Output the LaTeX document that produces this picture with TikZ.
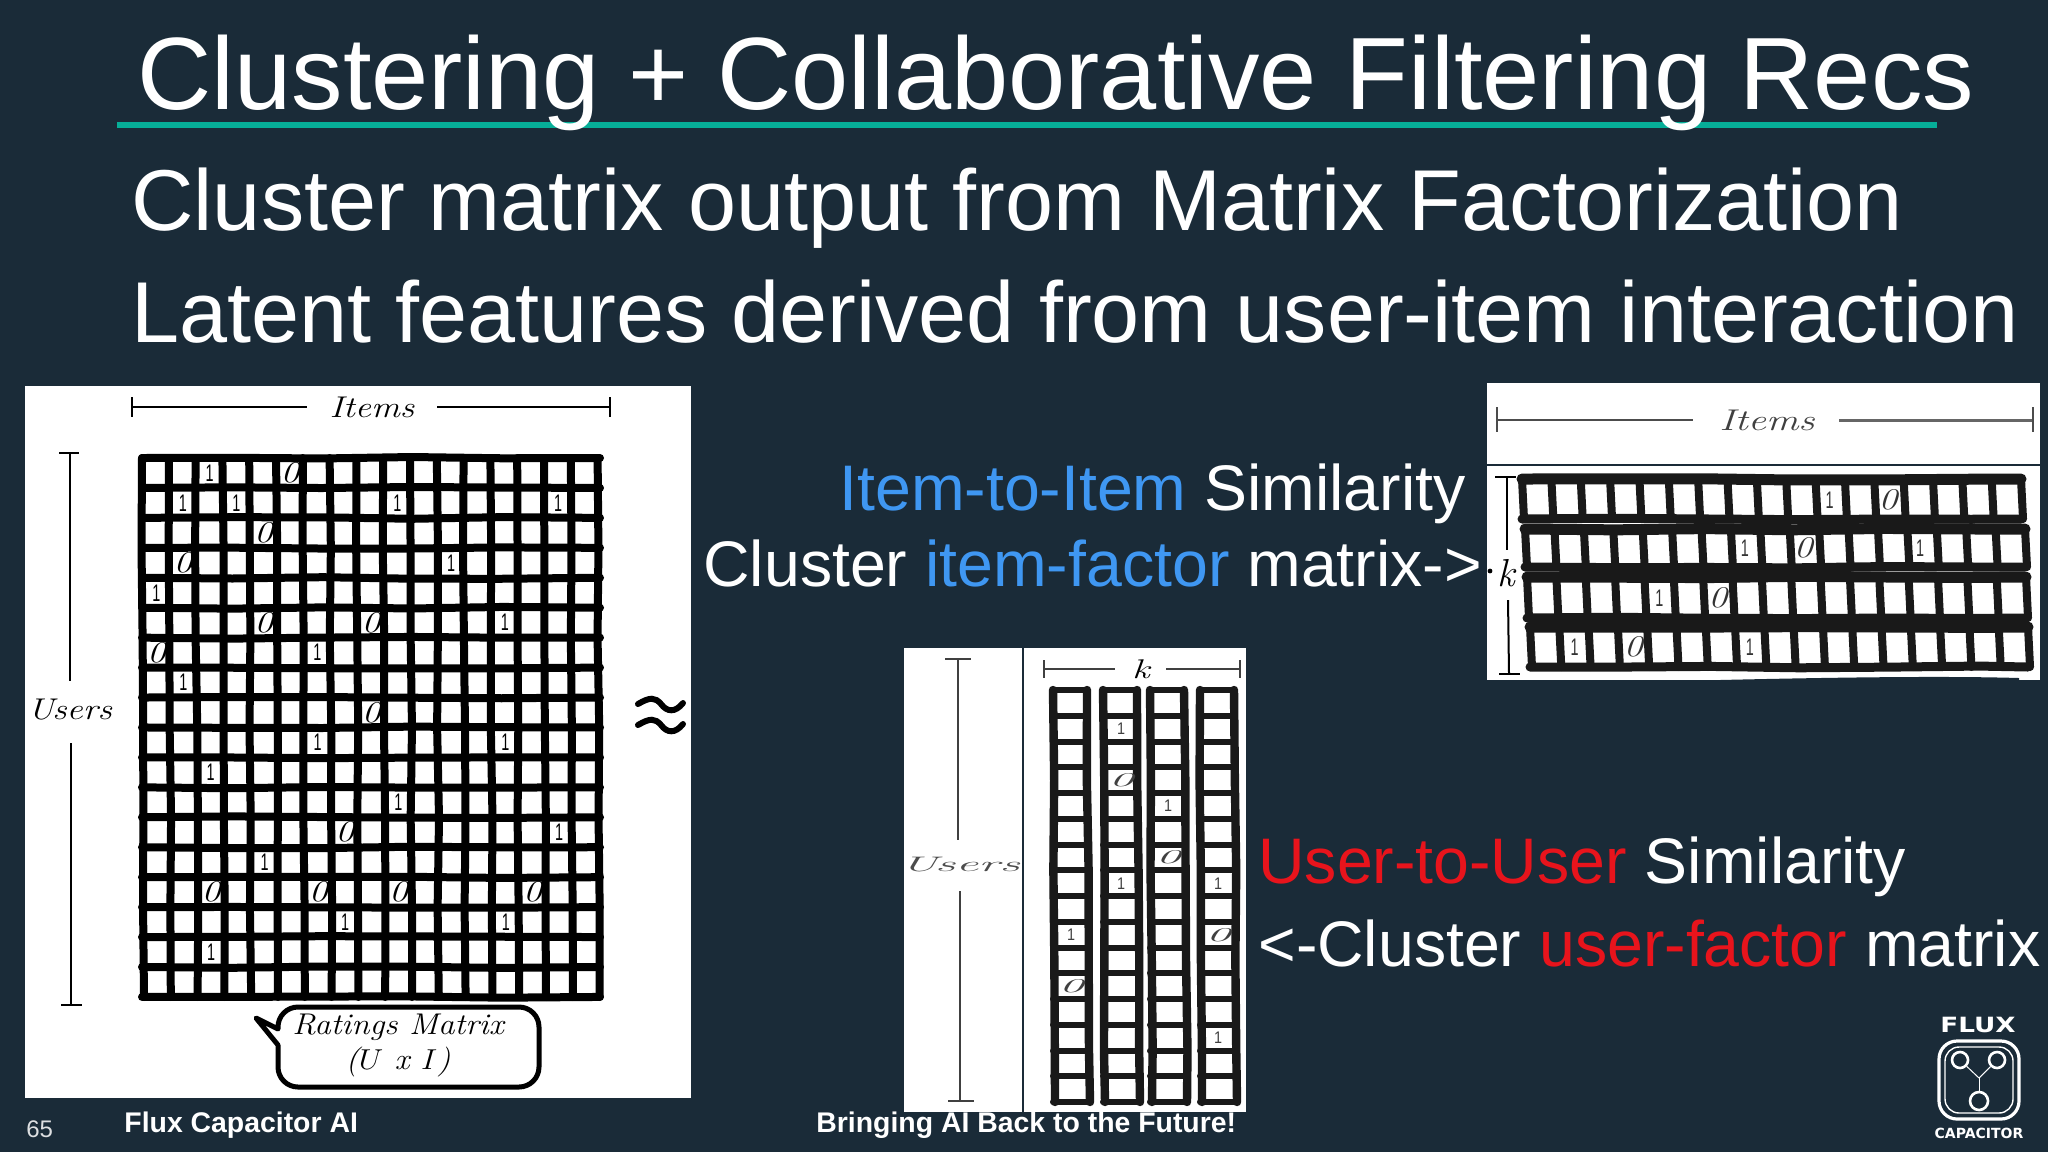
\documentclass[tikz,border=0pt]{standalone}
\usepackage{xcolor}
\usepackage{fontspec}
\usetikzlibrary{decorations.pathmorphing}
\newfontfamily\slidefont{Liberation Sans}
\newfontfamily\logofont{DejaVu Sans}
\definecolor{slidebg}{HTML}{1A2B38}
\definecolor{ruleteal}{HTML}{06AE98}
\definecolor{itemblue}{HTML}{3F97F2}
\definecolor{userred}{HTML}{E8141C}
\tikzset{
title text/.style = { anchor = base west, inner sep = 0pt, white, font = \slidefont\fontsize{51.4}{51.4}\selectfont },
body text/.style = { anchor = base west, inner sep = 0pt, white, font = \slidefont\fontsize{43.2}{43.2}\selectfont },
label text/.style = { inner sep = 0pt, white, font = \slidefont\fontsize{32.2}{32.2}\selectfont },
foot text/.style = { anchor = base west, inner sep = 0pt, white, font = \slidefont\bfseries\fontsize{14.2}{14.2}\selectfont },
hand text/.style = { inner sep = 0pt, transform shape, font = \itshape\fontsize{15}{15}\selectfont },
panel/.style = { fill = white, draw = none },
bracket/.style = { draw = black, line width = 1pt },
grid line/.style = { draw = black, line width = 4pt, line cap = round, decorate, decoration = { random steps, segment length = 45pt, amplitude = 0.5pt } },
strip line/.style = { draw = black!90, line width = 4pt, line cap = round, decorate, decoration = { random steps, segment length = 45pt, amplitude = 0.5pt } },
one mark/.style = { inner sep = 0pt, xscale = 0.6, transform shape, font = \slidefont\fontsize{12}{12}\selectfont },
zero mark/.style = { inner sep = 0pt, xscale = 1.25, transform shape, font = \itshape\fontsize{15}{15}\selectfont },
logo ring/.style = { circle, draw = white, line width = 1.3pt, minimum size = 8pt, inner sep = 0pt },
}
\begin{document}
\begin{tikzpicture}[x = 0.5pt, y = -0.5pt]
    \useasboundingbox (0, 0) rectangle (2048, 1152);
    \pgfmathsetseed{65}
    \fill[slidebg] (0, 0) rectangle (2048, 1152);
    % heading
    \path[draw = ruleteal, line width = 3.2pt] (117, 125) -- (1937, 125);
    \node[title text] (slidetitle) at (137, 109) {Clustering + Collaborative Filtering Recs};
    \node[body text] (bodyfirst) at (131, 230) {Cluster matrix output from Matrix Factorization};
    \node[body text] (bodysecond) at (131, 342) {Latent features derived from user-item interaction};
    % ratings matrix
    \path[panel] (25, 386) rectangle (691, 1098);
    \path[bracket] (132, 397) -- (132, 417);
    \path[bracket] (132, 407) -- (307, 407);
    \path[bracket] (437, 407) -- (610, 407);
    \path[bracket] (610, 397) -- (610, 417);
    \node[hand text, xscale = 1.2] (itemsmain) at (372, 407) {Items};
    \path[bracket] (59, 453) -- (79, 453);
    \path[bracket] (70, 453) -- (70, 681);
    \path[bracket] (71, 743) -- (71, 1005);
    \path[bracket] (61, 1005) -- (82, 1005);
    \node[hand text, xscale = 1.2] (usersmain) at (70, 710) {Users};
    \foreach \col in {0,...,17} {
        \draw[grid line] ({142 + 26.8 * \col}, 458) -- ({144 + 26.8 * \col}, 997);
    }
    \foreach \row in {0,...,18} {
        \draw[grid line] (142, {458 + 29.94 * \row}) -- (600, {458 + 29.94 * \row});
    }
    \foreach \col/\row in {2/0, 1/1, 3/1, 9/1, 15/1, 11/3, 0/4, 13/5, 6/6, 1/7, 6/9, 13/9, 2/10, 9/11, 15/12, 4/13, 7/15, 13/15, 2/16} {
        \node[one mark] (ratingone\col-\row) at ({156 + 26.8 * \col + 0.1 * \row}, {473 + 29.94 * \row}) {1};
    }
    \foreach \col/\row in {5/0, 4/2, 1/3, 4/5, 8/5, 0/6, 8/8, 7/12, 2/14, 6/14, 9/14, 14/14} {
        \node[zero mark] (ratingzero\col-\row) at ({156 + 26.8 * \col + 0.1 * \row}, {473 + 29.94 * \row}) {0};
    }
    \path[draw = black, line width = 3pt, line cap = round] (638, 704) .. controls (650, 697) and (655, 697) .. (661, 704) .. controls (667, 712) and (675, 713) .. (683, 703);
    \path[draw = black, line width = 3pt, line cap = round] (638, 725) .. controls (650, 718) and (655, 718) .. (661, 725) .. controls (667, 733) and (675, 734) .. (683, 724);
    \path[draw = black, line width = 2.5pt, line join = round] (256, 1018) -- (278, 1029) [rounded corners = 10pt] -- (278, 1007) -- (539, 1007) -- (539, 1087) -- (278, 1087) [sharp corners] -- (278, 1045) -- cycle;
    \node[hand text, xscale = 1.1] (bubblefirst) at (398, 1027) {Ratings Matrix};
    \node[hand text, xscale = 1.1] (bubblesecond) at (398, 1062) {($U$ x $I$)};
    % item factor matrix
    \path[panel] (1487, 383) rectangle (2040, 680);
    \path[draw = slidebg, line width = 1pt] (1487, 465) -- (2040, 465);
    \path[fill = slidebg] (1720, 680) .. controls (1850, 677) and (1950, 676) .. (2019, 678) -- (2019, 680) -- cycle;
    \path[bracket, black!70] (1497, 407) -- (1497, 432);
    \path[bracket, black!70] (1497, 420) -- (1693, 420);
    \path[bracket, black!60, line width = 1.5pt] (1839, 420) -- (2033, 420);
    \path[bracket, black!70] (2033, 407) -- (2033, 432);
    \node[hand text, xscale = 1.35, black!75] (itemsfactor) at (1767, 420) {Items};
    \path[bracket] (1495, 477) -- (1516, 477);
    \path[bracket] (1507, 477) -- (1507, 550);
    \path[bracket] (1508, 600) -- (1509, 674);
    \path[bracket] (1499, 674) -- (1520, 674);
    \fill[black] (1490, 571) circle (1.2pt);
    \node[hand text, xscale = 1.3, yscale = 1.3] (kfactor) at (1506, 573) {k};
    \foreach \ya/\yb/\xa/\xb in {479/519/1522/2021, 529/567/1525/2025, 577/618/1527/2026, 627/667/1530/2028} {
        \draw[strip line, line width = 5.5pt] (\xa, \ya) -- (\xb, \ya);
        \draw[strip line, line width = 4.5pt] (\xa, \yb) -- (\xb, \yb);
        \foreach \col in {0,...,17} {
            \draw[strip line] ({\xa + (\xb - \xa) * \col / 17}, \ya) -- ({\xa + 2 + (\xb - \xa) * \col / 17}, \yb);
        }
    }
    \foreach \col/\row/\xa/\ya in {10/0/1522/500, 7/1/1525/548, 13/1/1525/548, 4/2/1527/598, 1/3/1530/647, 7/3/1530/647} {
        \node[one mark, black!80] (factorone\col-\row) at ({\xa + 15.5 + 29.2 * \col}, \ya) {1};
    }
    \foreach \col/\row/\xa/\ya in {12/0/1522/500, 9/1/1525/548, 6/2/1527/598, 3/3/1530/647} {
        \node[zero mark, black!80] (factorzero\col-\row) at ({\xa + 15.5 + 29.2 * \col}, \ya) {0};
    }
    \node[label text, anchor = base east] (itemsimilar) at (1466, 510) {\textcolor{itemblue}{Item-to-Item} Similarity};
    \node[label text, anchor = base west] (itemcluster) at (703, 586) {Cluster \textcolor{itemblue}{item-factor} matrix->};
    % user factor matrix
    \path[panel] (904, 648) rectangle (1246, 1112);
    \path[draw = slidebg, line width = 1pt] (1023, 648) -- (1023, 1112);
    \path[bracket, black!75] (945, 659) -- (971, 659);
    \path[bracket, black!75] (958, 659) -- (958, 840);
    \path[bracket, black!75] (960, 891) -- (960, 1101);
    \path[bracket, black!75] (948, 1101) -- (974, 1101);
    \node[hand text, xscale = 1.7, yscale = 0.7, black!70] (usersfactor) at (960, 865) {Users};
    \path[bracket, black!75] (1044, 660) -- (1044, 678);
    \path[bracket, black!75] (1044, 669) -- (1115, 669);
    \path[bracket, black!75] (1166, 669) -- (1240, 669);
    \path[bracket, black!75] (1240, 660) -- (1240, 678);
    \node[hand text, xscale = 1.3, yscale = 0.9] (kuser) at (1141, 669) {k};
    \foreach \xa/\xb in {1053/1087, 1103/1137, 1150/1184, 1200/1234} {
        \draw[strip line, line width = 4.2pt] (\xa, 690) -- ({\xa + 2}, 1102);
        \draw[strip line, line width = 4.2pt] (\xb, 690) -- ({\xb + 3}, 1102);
        \foreach \row in {0,...,16} {
            \draw[strip line, line width = 3pt] (\xa, {690 + 25.75 * \row}) -- (\xb, {690 + 25.75 * \row});
        }
    }
    \foreach \xa/\row in {1103/1, 1103/7, 1150/4, 1200/7, 1053/9, 1200/13} {
        \node[one mark, yscale = 0.7, black!75] (userone\xa-\row) at ({\xa + 18}, {703 + 25.75 * \row}) {1};
    }
    \foreach \xa/\row in {1103/3, 1150/6, 1200/9, 1053/11} {
        \node[zero mark, xscale = 1.3, yscale = 0.65, black!75] (userzero\xa-\row) at ({\xa + 18}, {703 + 25.75 * \row}) {0};
    }
    \node[label text, anchor = base west] (usersimilar) at (1258, 883) {\textcolor{userred}{User-to-User} Similarity};
    \node[label text, anchor = base west] (usercluster) at (1258, 966) {<-Cluster \textcolor{userred}{user-factor} matrix};
    % footer
    \node[inner sep = 0pt, anchor = base west, white!85!slidebg, font = \slidefont\fontsize{12}{12}\selectfont] (slidenumber) at (26, 1137) {65};
    \node[foot text] (footleft) at (124, 1132) {Flux Capacitor AI};
    \node[foot text] (footmiddle) at (816, 1132) {Bringing AI Back to the Future!};
    % logo
    \node[inner sep = 0pt, white, xscale = 1.25, transform shape, font = \logofont\bfseries\fontsize{10.5}{10.5}\selectfont] (fluxword) at (1978, 1025) {FLUX};
    \path[draw = white, line width = 1.6pt, rounded corners = 9pt] (1939, 1041) rectangle (2019, 1119);
    \path[draw = white, line width = 0.7pt, rounded corners = 7pt] (1945, 1047) rectangle (2013, 1113);
    \node[logo ring] (ringleft) at (1960, 1060) {};
    \node[logo ring] (ringright) at (1997, 1060) {};
    \node[logo ring, minimum size = 9pt] (ringlow) at (1979, 1101) {};
    \coordinate (fluxjoint) at (1979, 1078);
    \path[draw = white, line width = 0.5pt] (ringleft) -- (fluxjoint);
    \path[draw = white, line width = 0.5pt] (ringright) -- (fluxjoint);
    \path[draw = white, line width = 0.5pt] (ringlow) -- (fluxjoint);
    \node[inner sep = 0pt, white, font = \logofont\bfseries\fontsize{7}{7}\selectfont] (capacitorword) at (1979, 1133) {CAPACITOR};
\end{tikzpicture}
\end{document}
